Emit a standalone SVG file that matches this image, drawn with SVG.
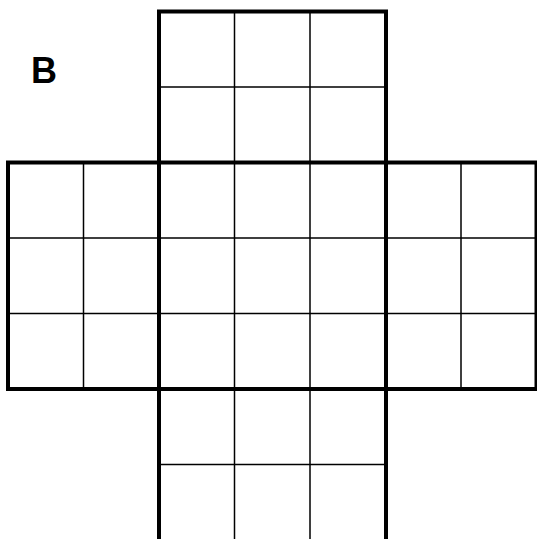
<svg xmlns="http://www.w3.org/2000/svg" width="537" height="539" viewBox="0 0 537 539">
<style>
.thin{stroke:#000;stroke-width:1.5;fill:none}
.thick{stroke:#000;stroke-width:4;fill:none;stroke-linecap:square}
.lbl{font-family:"Liberation Sans",Arial,sans-serif;font-weight:bold;font-size:36px;fill:#000}
</style>
<rect width="537" height="539" fill="#fff"/>
<g id="thin-grid">
<path class="thin" d="M234.5 11.5V539M310 11.5V539M83.5 162.5V389M461 162.5V389M159 87H386M8 238H536.5M8 313.5H536.5M159 464.5H386"/>
</g>
<g id="thick-outline">
<path class="thick" d="M159 539V11.5H386V539M8 162.5H536.5V389H8ZM8 389H536.5"/>
</g>
<g id="label">
<text class="lbl" x="31" y="83">B</text>
</g>
</svg>
